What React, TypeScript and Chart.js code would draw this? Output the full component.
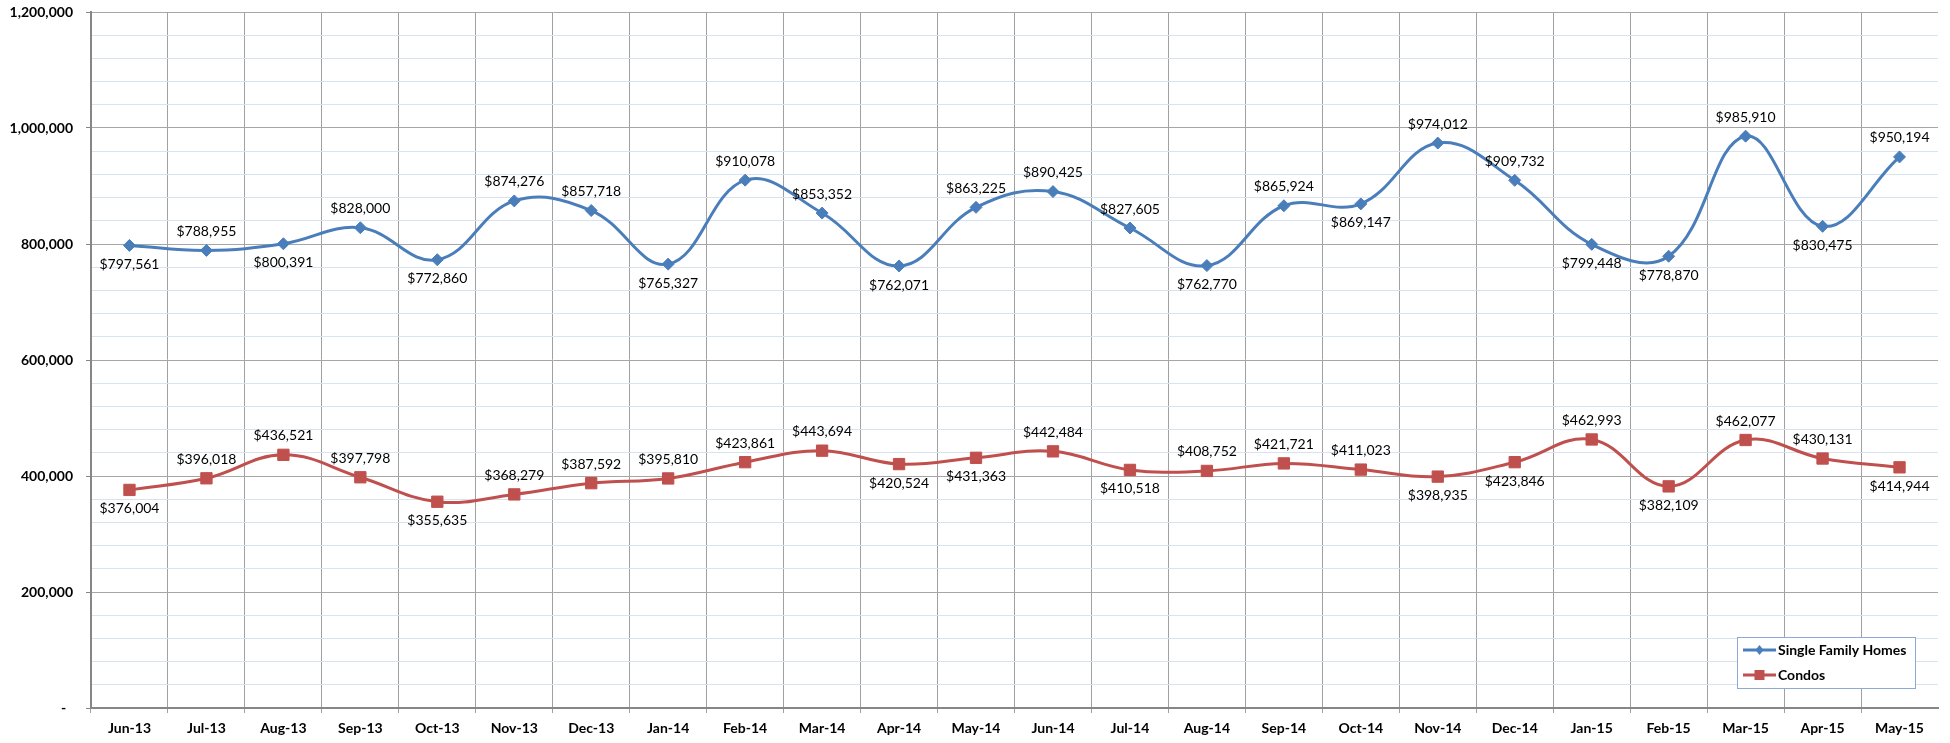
import React, { useEffect, useRef } from 'react';
import { Chart, registerables } from 'chart.js';

Chart.register(...registerables);

const months = [
  'Jun-13', 'Jul-13', 'Aug-13', 'Sep-13', 'Oct-13', 'Nov-13', 'Dec-13', 'Jan-14',
  'Feb-14', 'Mar-14', 'Apr-14', 'May-14', 'Jun-14', 'Jul-14', 'Aug-14', 'Sep-14',
  'Oct-14', 'Nov-14', 'Dec-14', 'Jan-15', 'Feb-15', 'Mar-15', 'Apr-15', 'May-15',
];

const singleFamilyHomes = [
  797561, 788955, 800391, 828000, 772860, 874276, 857718, 765327,
  910078, 853352, 762071, 863225, 890425, 827605, 762770, 865924,
  869147, 974012, 909732, 799448, 778870, 985910, 830475, 950194,
];

const condos = [
  376004, 396018, 436521, 397798, 355635, 368279, 387592, 395810,
  423861, 443694, 420524, 431363, 442484, 410518, 408752, 421721,
  411023, 398935, 423846, 462993, 382109, 462077, 430131, 414944,
];

// label placement: 'a' = above point, 'b' = below point
const sfhLabelSide = [
  'b', 'a', 'b', 'a', 'b', 'a', 'a', 'b', 'a', 'a', 'b', 'a',
  'a', 'a', 'b', 'a', 'b', 'a', 'a', 'b', 'b', 'a', 'b', 'a',
];
const condoLabelSide = [
  'b', 'a', 'a', 'a', 'b', 'a', 'a', 'a', 'a', 'a', 'b', 'b',
  'a', 'b', 'a', 'a', 'a', 'b', 'b', 'a', 'b', 'a', 'a', 'b',
];

const seriesNames = ['Single Family Homes', 'Condos'];
const yMin = 0;
const yMax = 1200000;
const yMinorStep = 40000;
const yMajorStep = 200000;

const BLUE = '#4A7EBB';
const RED = '#C0504D';
const FONT = 'Lato, "Open Sans", sans-serif';

const labelSides = [sfhLabelSide, condoLabelSide];

const dataLabelPlugin = {
  id: 'valueLabels',
  afterDatasetsDraw(chart: any) {
    const ctx = chart.ctx;
    ctx.save();
    ctx.font = `14px ${FONT}`;
    ctx.fillStyle = '#000';
    ctx.textAlign = 'center';
    ctx.textBaseline = 'middle';
    chart.data.datasets.forEach((ds: any, di: number) => {
      const meta = chart.getDatasetMeta(di);
      const sides = labelSides[di];
      meta.data.forEach((pt: any, i: number) => {
        const v = ds.data[i] as number;
        const dy = sides[i] === 'a' ? -19 : 19;
        ctx.fillText('$' + v.toLocaleString('en-US'), pt.x, pt.y + dy);
      });
    });
    ctx.restore();
  },
};

const legendPlugin = {
  id: 'boxLegend',
  afterDraw(chart: any) {
    const ctx = chart.ctx;
    const area = chart.chartArea;
    const w = 178;
    const h = 51;
    const x0 = area.right - 23 - w;
    const y0 = area.bottom - 20 - h;
    ctx.save();
    ctx.fillStyle = '#ffffff';
    ctx.fillRect(x0, y0, w, h);
    ctx.strokeStyle = '#8FA8D4';
    ctx.lineWidth = 1;
    ctx.strokeRect(x0 + 0.5, y0 + 0.5, w, h);
    const colors = [BLUE, RED];
    colors.forEach((c, i) => {
      const cy = y0 + 13 + i * 25;
      const lx0 = x0 + 6;
      const lx1 = x0 + 39;
      ctx.strokeStyle = c;
      ctx.lineWidth = 3;
      ctx.beginPath();
      ctx.moveTo(lx0, cy);
      ctx.lineTo(lx1, cy);
      ctx.stroke();
      ctx.fillStyle = c;
      const mx = (lx0 + lx1) / 2;
      if (i === 0) {
        ctx.beginPath();
        ctx.moveTo(mx, cy - 5);
        ctx.lineTo(mx + 4, cy);
        ctx.lineTo(mx, cy + 5);
        ctx.lineTo(mx - 4, cy);
        ctx.closePath();
        ctx.fill();
      } else {
        ctx.fillRect(mx - 5, cy - 5, 10, 10);
      }
      ctx.fillStyle = '#000';
      ctx.font = `bold 14px ${FONT}`;
      ctx.textAlign = 'left';
      ctx.textBaseline = 'middle';
      ctx.fillText(seriesNames[i], lx1 + 2, cy);
    });
    ctx.restore();
  },
};

export default function App() {
  const canvasRef = useRef<HTMLCanvasElement | null>(null);

  useEffect(() => {
    if (!canvasRef.current) return;
    const chart = new Chart(canvasRef.current, {
      type: 'line',
      data: {
        labels: months,
        datasets: [
          {
            label: seriesNames[0],
            data: singleFamilyHomes,
            borderColor: BLUE,
            backgroundColor: BLUE,
            borderWidth: 3,
            tension: 0.4,
            pointStyle: 'rectRot',
            pointRadius: 6,
            pointBackgroundColor: BLUE,
            pointBorderColor: BLUE,
            pointBorderWidth: 1,
            fill: false,
          },
          {
            label: seriesNames[1],
            data: condos,
            borderColor: RED,
            backgroundColor: RED,
            borderWidth: 3,
            tension: 0.4,
            pointStyle: 'rect',
            pointRadius: 8,
            pointBackgroundColor: RED,
            pointBorderColor: RED,
            pointBorderWidth: 1,
            fill: false,
          },
        ],
      },
      options: {
        animation: false,
        responsive: true,
        maintainAspectRatio: false,
        layout: { padding: { top: 12, right: 12, left: 0, bottom: 0 } },
        plugins: {
          legend: { display: false },
          tooltip: { enabled: false },
        },
        scales: {
          x: {
            offset: true,
            afterFit: (s: any) => { s.height = 35; s.paddingLeft = 0; s.paddingRight = 0; },
            grid: {
              offset: true,
              color: (c: any) => (c.tick ? '#A0A0A0' : 'rgba(0,0,0,0)'),
              lineWidth: 1,
              tickLength: 5,
              drawTicks: true,
            },
            border: { color: '#868686', width: 2 },
            ticks: {
              color: '#000',
              font: { family: FONT, size: 14, weight: 'bold' },
              padding: 7,
              maxRotation: 0,
              autoSkip: false,
            },
          },
          y: {
            min: yMin,
            max: yMax,
            afterFit: (s: any) => { s.width = 91; s.paddingTop = 0; s.paddingBottom = 0; },
            grid: {
              color: (c: any) =>
                c.tick && c.tick.value % yMajorStep === 0 ? '#A6A6A6' : '#D9E2F3',
              tickColor: (c: any) =>
                c.tick && c.tick.value % yMajorStep === 0 ? '#868686' : 'rgba(0,0,0,0)',
              lineWidth: 1,
              tickLength: 5,
            },
            border: { color: '#868686', width: 2 },
            ticks: {
              stepSize: yMinorStep,
              autoSkip: false,
              color: '#000',
              font: { family: FONT, size: 14, weight: 'bold' },
              padding: 13,
              callback: (v: any) => {
                const n = Number(v);
                if (n % yMajorStep !== 0) return '';
                if (n === 0) return '-  ';
                return n.toLocaleString('en-US');
              },
            },
          },
        },
      },
      plugins: [dataLabelPlugin, legendPlugin],
    } as any);
    return () => chart.destroy();
  }, []);

  return (
    <div style={{ position: 'fixed', left: 0, top: 0, width: '1950px', height: '743px', background: '#fff' }}>
      <canvas ref={canvasRef} />
    </div>
  );
}
